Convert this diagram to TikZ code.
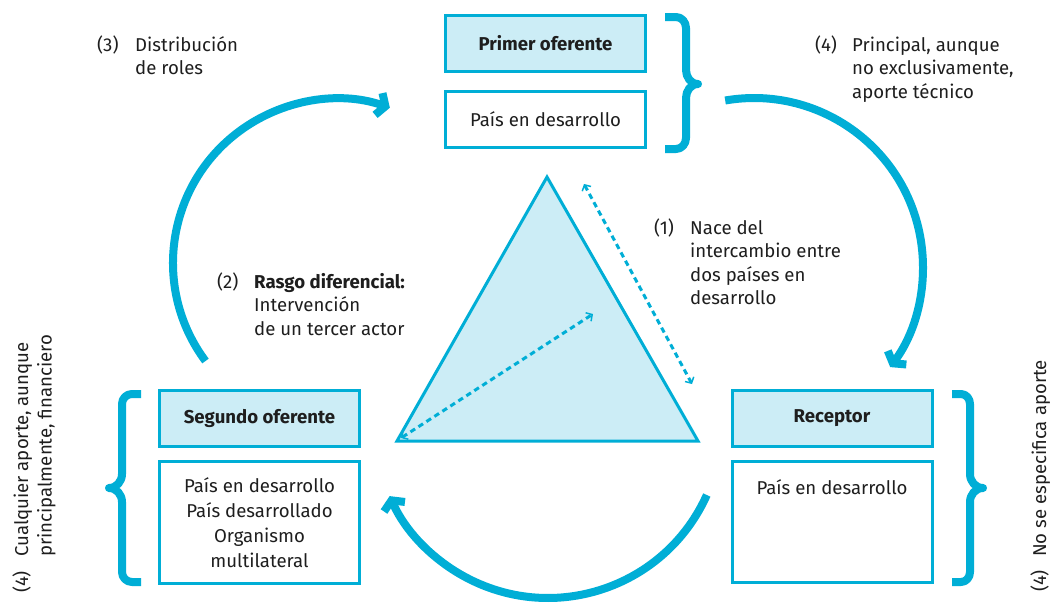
\documentclass[tikz,border=0pt]{standalone}
\usepackage{fontspec}
\setmainfont{Fira Sans}
\usetikzlibrary{arrows.meta}
\definecolor{cy}{RGB}{0,174,214}
\definecolor{lcy}{RGB}{204,237,246}
\definecolor{txt}{RGB}{30,30,30}
\newcommand\fsz{\fontsize{18.6}{23.5}\selectfont}
\newcommand\fszb{\fontsize{18.6}{25}\selectfont}
\begin{document}
\begin{tikzpicture}[x=1pt,y=-1pt,
  every node/.style={text=txt},
  hdr/.style={draw=cy, fill=lcy, line width=3pt, minimum width=200pt, minimum height=56pt, inner sep=0pt, font=\fsz\bfseries},
  wbox/.style={draw=cy, fill=white, line width=3pt, minimum width=200pt, inner sep=0pt, font=\fszb, align=center},
  lbl/.style={anchor=base west, inner sep=0pt, font=\fsz, align=left},
  brace/.style={draw=cy, line width=8pt, line join=round},
  bigarrow/.style={draw=cy, line width=8pt, -{Straight Barb[length=7pt,width=23pt]}},
  dasharrow/.style={draw=cy, line width=3pt, dash pattern=on 5.5pt off 4pt, {Straight Barb[length=4.5pt,width=10pt,line width=1.5pt]}-{Straight Barb[length=4.5pt,width=10pt,line width=1.5pt]}}
]
\useasboundingbox (0,0) rectangle (1051,603);
\fill[white] (0,0) rectangle (1051,603);

% triangle
\coordinate (ta) at (547,177);
\coordinate (tl) at (397,441);
\coordinate (tr) at (698,441);
\draw[draw=cy, fill=lcy, line width=3pt, line join=miter] (ta) -- (tl) -- (tr) -- cycle;

% dashed arrows
\coordinate (d1s) at (401,438);
\coordinate (d1e) at (593,314);
\draw[dasharrow] (d1s) -- (d1e);
\coordinate (d2s) at (584,184);
\coordinate (d2e) at (692,384);
\draw[dasharrow] (d2s) -- (d2e);

% boxes
\node[hdr] (p1) at (545.5,43.5) {Primer oferente};
\node[wbox, minimum height=56pt] (p1b) at (545.5,119.5) {País en desarrollo};
\node[hdr] (s2) at (259.5,418.5) {Segundo oferente};
\node[wbox, minimum height=122pt] (s2b) at (259.5,522.5) {País en desarrollo\\País desarrollado\\Organismo\\multilateral};
\node[hdr] (rc) at (832,418.5) {Receptor};
\node[wbox, minimum height=121pt] (rcb) at (832,522) {};
\node[anchor=base, inner sep=0pt, font=\fsz] (rct) at (832,494) {País en desarrollo};

% braces
\draw[brace] (665,17) -- (676,17) to[out=0,in=90] (686,28) -- (686,70) to[out=-90,in=180] (698,84) to[out=180,in=90] (686,98) -- (686,138) to[out=-90,in=0] (676,149) -- (665,149);
\draw[brace] (141,394) -- (132,394) to[out=180,in=90] (122,404) -- (122,474) to[out=-90,in=0] (109,488) to[out=0,in=90] (122,502) -- (122,572) to[out=-90,in=180] (132,582) -- (141,582);
\draw[brace] (952,394) -- (961,394) to[out=0,in=90] (970,404) -- (970,474) to[out=-90,in=180] (983,488) to[out=180,in=90] (970,502) -- (970,572) to[out=-90,in=0] (961,582) -- (952,582);

% big arcs
\coordinate (la) at (205.5,361);
\draw[bigarrow] (la) arc[start angle=143.3, end angle=288.8, radius=164];
\coordinate (ra) at (725.2,100.5);
\draw[bigarrow] (ra) arc[start angle=260.2, end angle=396.3, radius=169];
\coordinate (ba) at (706.8,495);
\draw[bigarrow] (ba) arc[start angle=24.1, end angle=155.5, radius=174];

% labels (anchor at baseline of last line)
\node[lbl] (n3) at (97,51) {(3)};
\node[lbl] (t3) at (135,74.5) {Distribución\\de roles};
\node[lbl] (n4a) at (815,51) {(4)};
\node[lbl] (t4a) at (852,98) {Principal, aunque\\no exclusivamente,\\aporte técnico};
\node[lbl] (n1) at (654,234) {(1)};
\node[lbl] (t1) at (690,304.5) {Nace del\\intercambio entre\\dos países en\\desarrollo};
\node[lbl] (n2) at (217,288) {(2)};
\node[lbl] (t2) at (254,335) {\textbf{Rasgo diferencial:}\\Intervención\\de un tercer actor};

% rotated labels
\node[lbl, rotate=90] (n4b) at (28,593) {(4)};
\node[lbl, rotate=90] (t4b) at (51.5,557) {Cualquier aporte, aunque\\principalmente, financiero};
\node[lbl, rotate=90] (n4c) at (1046,592) {(4)};
\node[lbl, rotate=90] (t4c) at (1046,557) {No se especifica aporte};
\end{tikzpicture}
\end{document}
